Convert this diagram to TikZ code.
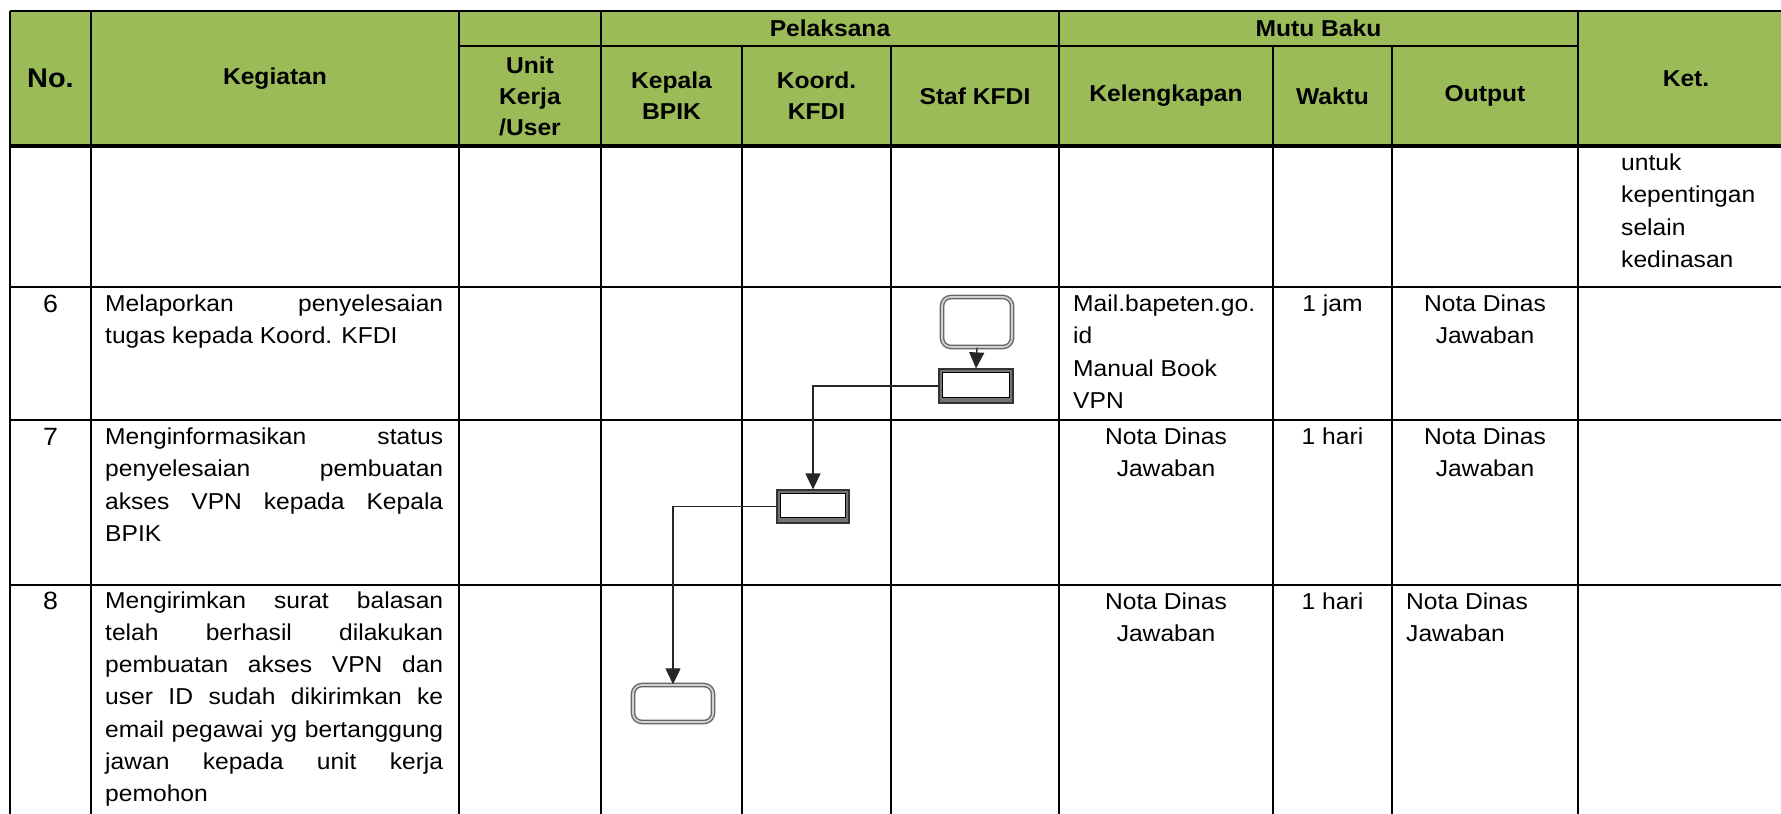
\documentclass[tikz,border=0pt]{standalone}
\usepackage{fontspec}
\setmainfont{Liberation Sans}[FakeStretch=1.07]
\usetikzlibrary{arrows.meta}
\definecolor{hdrgreen}{RGB}{155,187,89}
\newcommand\jusline[3]{\node[txt,anchor=base west] (#1) at (105,#2) {\makebox[338pt][s]{#3}};}
\newcommand\lftline[4]{\node[txt,anchor=base west] (#1) at (#2,#3) {#4};}
\newcommand\cenline[4]{\node[txt,anchor=base] (#1) at (#2,#3) {#4};}
\begin{document}
\begin{tikzpicture}[x=1pt,y=-1pt,
  txt/.style={font=\fontsize{23}{32.5}\selectfont, inner sep=0pt},
  numtxt/.style={font=\fontsize{25}{32.5}\selectfont, inner sep=0pt, anchor=base},
  hdr/.style={font=\bfseries\fontsize{23}{31}\selectfont, align=center, inner sep=0pt},
  vline/.style={line width=2.8pt, black},
  hline/.style={line width=2.3pt, black},
  term/.style={draw=black!60, line width=1.4pt, double=black!18, double distance=1.8pt,
    rounded corners=9pt, inner sep=0pt},
  proc/.style={draw=black!80, line width=1.2pt, fill=black!55, inner sep=0pt,
    path picture={\draw[black, line width=1pt, fill=white]
      ([xshift=3pt,yshift=-3pt]path picture bounding box.north west) rectangle
      ([xshift=-3.5pt,yshift=5.5pt]path picture bounding box.south east);}},
  arr/.style={-{Triangle[length=16pt,width=15pt]}, line width=1.3pt, black!85}]
\useasboundingbox (0,0) rectangle (1781,814);
\clip (0,0) rectangle (1781,814);
\fill[white] (0,0) rectangle (1781,814);
% header background
\fill[hdrgreen] (10,11) rectangle (1794,146);
% horizontal lines
\draw[vline] (10,11) -- (1794,11);
\draw[vline] (459,46) -- (1578,46);
\draw[line width=3.6pt] (10,146) -- (1794,146);
\draw[hline] (10,287) -- (1794,287);
\draw[hline] (10,420) -- (1794,420);
\draw[hline] (10,585) -- (1794,585);
% vertical lines
\foreach \cx in {10,91,459,601,1059,1578,1794} \draw[vline] (\cx,11) -- (\cx,830);
\foreach \cx in {742,891,1273,1392} \draw[vline] (\cx,46) -- (\cx,830);
% header texts
\node[hdr, font=\bfseries\fontsize{27}{31}\selectfont] (hNo) at (50.5,78.5) {No.};
\node[hdr] (hKeg) at (275,78.5) {Kegiatan};
\node[hdr] (hPel) at (830,28.5) {Pelaksana};
\node[hdr] (hMutu) at (1318.5,28.5) {Mutu Baku};
\node[hdr] (hUnit) at (530,96) {Unit\\Kerja\\/User};
\node[hdr] (hKep) at (671.5,96) {Kepala\\BPIK};
\node[hdr] (hKoord) at (816.5,96) {Koord.\\KFDI};
\node[hdr] (hStaf) at (975,96) {Staf KFDI};
\node[hdr] (hKel) at (1166,96) {Kelengkapan};
\node[hdr] (hWaktu) at (1332.5,96) {Waktu};
\node[hdr] (hOut) at (1485,96) {Output};
\node[hdr] (hKet) at (1686,78.5) {Ket.};
% Ket continuation
\lftline{ket1}{1621}{170}{untuk}
\lftline{ket2}{1621}{202.5}{kepentingan}
\lftline{ket3}{1621}{235}{selain}
\lftline{ket4}{1621}{267.5}{kedinasan}
% row 6
\node[numtxt] (n6) at (50.5,312) {6};
\jusline{k6a}{311}{Melaporkan penyelesaian}
\lftline{k6b}{105}{343.5}{tugas kepada Koord. KFDI}
\lftline{l6a}{1073}{311}{Mail.bapeten.go.}
\lftline{l6b}{1073}{343.5}{id}
\lftline{l6c}{1073}{376}{Manual Book}
\lftline{l6d}{1073}{408.5}{VPN}
\cenline{w6}{1332.5}{311}{1 jam}
\cenline{o6a}{1485}{311}{Nota Dinas}
\cenline{o6b}{1485}{343.5}{Jawaban}
% row 7
\node[numtxt] (n7) at (50.5,445) {7};
\jusline{k7a}{444}{Menginformasikan status}
\jusline{k7b}{476.5}{penyelesaian pembuatan}
\jusline{k7c}{509}{akses VPN kepada Kepala}
\lftline{k7d}{105}{541.5}{BPIK}
\cenline{l7a}{1166}{444}{Nota Dinas}
\cenline{l7b}{1166}{476.5}{Jawaban}
\cenline{w7}{1332.5}{444}{1 hari}
\cenline{o7a}{1485}{444}{Nota Dinas}
\cenline{o7b}{1485}{476.5}{Jawaban}
% row 8
\node[numtxt] (n8) at (50.5,609) {8};
\jusline{k8a}{608}{Mengirimkan surat balasan}
\jusline{k8b}{640.3}{telah berhasil dilakukan}
\jusline{k8c}{672.6}{pembuatan akses VPN dan}
\jusline{k8d}{704.9}{user ID sudah dikirimkan ke}
\jusline{k8e}{737.2}{email pegawai yg bertanggung}
\jusline{k8f}{769.5}{jawan kepada unit kerja}
\lftline{k8g}{105}{801.8}{pemohon}
\cenline{l8a}{1166}{609}{Nota Dinas}
\cenline{l8b}{1166}{641.5}{Jawaban}
\cenline{w8}{1332.5}{609}{1 hari}
\lftline{o8a}{1406}{609}{Nota Dinas}
\lftline{o8b}{1406}{641.5}{Jawaban}
% flow shapes
\node[term, minimum width=70pt, minimum height=50pt] (T1) at (977,322) {};
\node[proc, minimum width=74pt, minimum height=34pt] (P1) at (976,386) {};
\node[proc, minimum width=72pt, minimum height=33pt] (P2) at (813,506.5) {};
\node[term, minimum width=80pt, minimum height=37pt] (T2) at (673,703.5) {};
% connectors
\draw[arr] (T1.south) -- (P1.north);
\draw[arr] (P1.west) -| (P2.north);
\draw[arr] (P2.west) -| (T2.north);
\end{tikzpicture}
\end{document}
